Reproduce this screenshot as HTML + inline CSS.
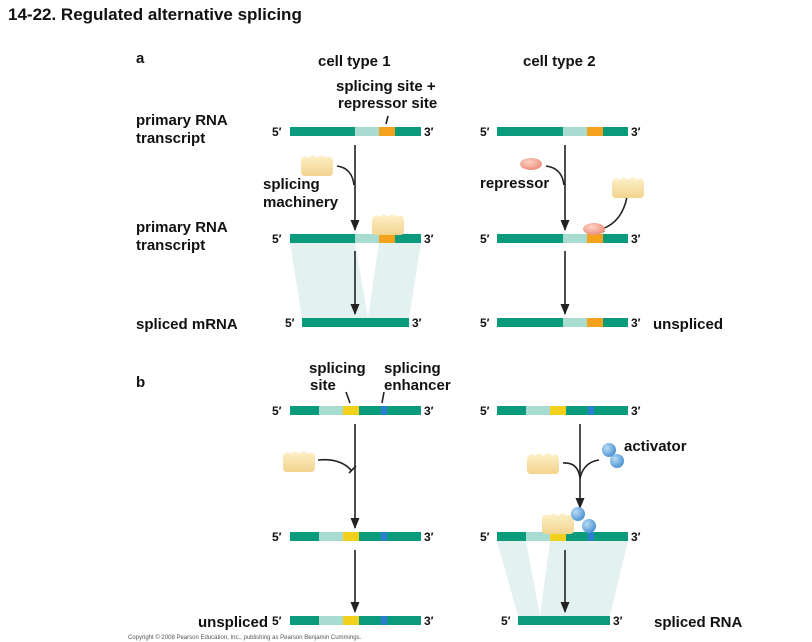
<!DOCTYPE html>
<html><head><meta charset="utf-8"><style>
html,body{margin:0;padding:0;background:#fff;}
svg{display:block;font-family:"Liberation Sans",sans-serif;font-weight:bold;}
</style></head><body>
<svg width="812" height="642" viewBox="0 0 812 642" xmlns="http://www.w3.org/2000/svg">
<defs>
<linearGradient id="mg" x1="0" y1="0" x2="0" y2="1"><stop offset="0" stop-color="#fdf0c8"/><stop offset="1" stop-color="#f3d38e"/></linearGradient>
<radialGradient id="bg" cx="0.35" cy="0.35" r="0.7"><stop offset="0" stop-color="#b8dcf7"/><stop offset="1" stop-color="#4a90d0"/></radialGradient>
<radialGradient id="rg" cx="0.4" cy="0.35" r="0.7"><stop offset="0" stop-color="#fcd3c4"/><stop offset="1" stop-color="#ec8a78"/></radialGradient>
<g id="mach"><path d="M0,6 Q3,0 8,4 Q12,-1 16,4 Q21,-1 25,4 Q30,0 32,6 L32,18 Q32,22 28,22 L4,22 Q0,22 0,18 Z" fill="url(#mg)"/></g>
<marker id="ah" markerWidth="11" markerHeight="9" refX="10" refY="4.5" orient="auto" markerUnits="userSpaceOnUse"><path d="M0,0 L11,4.5 L0,9 Z" fill="#222"/></marker>
</defs>
<g fill="#111" font-size="15">
<text x="8" y="20" font-size="17">14-22.  Regulated alternative splicing</text>
<text x="136" y="63">a</text>
<text x="318" y="66">cell type 1</text>
<text x="523" y="66">cell type 2</text>
<text x="336" y="91">splicing site +</text>
<text x="338" y="108">repressor site</text>
<text x="136" y="125">primary RNA</text>
<text x="136" y="143">transcript</text>
<text x="136" y="232">primary RNA</text>
<text x="136" y="250">transcript</text>
<text x="136" y="329">spliced mRNA</text>
<text x="263" y="189">splicing</text>
<text x="263" y="207">machinery</text>
<text x="480" y="188">repressor</text>
<text x="653" y="329">unspliced</text>
<text x="136" y="387">b</text>
<text x="309" y="373">splicing</text>
<text x="310" y="390">site</text>
<text x="384" y="373">splicing</text>
<text x="384" y="390">enhancer</text>
<text x="624" y="451">activator</text>
<text x="198" y="627">unspliced</text>
<text x="654" y="627">spliced RNA</text>
</g>
<g fill="#111" font-size="12">
<text x="272" y="136">5′</text><text x="424" y="136">3′</text>
<text x="480" y="136">5′</text><text x="631" y="136">3′</text>
<text x="272" y="243">5′</text><text x="424" y="243">3′</text>
<text x="480" y="243">5′</text><text x="631" y="243">3′</text>
<text x="285" y="327">5′</text><text x="412" y="327">3′</text>
<text x="480" y="327">5′</text><text x="631" y="327">3′</text>
<text x="272" y="415">5′</text><text x="424" y="415">3′</text>
<text x="480" y="415">5′</text><text x="631" y="415">3′</text>
<text x="272" y="541">5′</text><text x="424" y="541">3′</text>
<text x="480" y="541">5′</text><text x="631" y="541">3′</text>
<text x="272" y="625">5′</text><text x="424" y="625">3′</text>
<text x="501" y="625">5′</text><text x="613" y="625">3′</text>
</g>
<text x="128" y="639" font-size="6" font-weight="normal" fill="#555">Copyright © 2008 Pearson Education, Inc., publishing as Pearson Benjamin Cummings.</text>
<g fill="#e3f1f1">
<polygon points="290,243 355,243 368,318 302,318"/>
<polygon points="379,243 421,243 409,318 368,318"/>
<polygon points="497,541 526,541 540,616 518,616"/>
<polygon points="550,541 628,541 610,616 540,616"/>
</g>
<g>
<rect x="290" y="127" width="131" height="9" fill="#0a9a7c"/><rect x="355" y="127" width="24" height="9" fill="#a9dcd0"/><rect x="379" y="127" width="16" height="9" fill="#f5a21c"/>
<rect x="497" y="127" width="131" height="9" fill="#0a9a7c"/><rect x="563" y="127" width="24" height="9" fill="#a9dcd0"/><rect x="587" y="127" width="16" height="9" fill="#f5a21c"/>
<rect x="290" y="234" width="131" height="9" fill="#0a9a7c"/><rect x="355" y="234" width="24" height="9" fill="#a9dcd0"/><rect x="379" y="234" width="16" height="9" fill="#f5a21c"/>
<rect x="497" y="234" width="131" height="9" fill="#0a9a7c"/><rect x="563" y="234" width="24" height="9" fill="#a9dcd0"/><rect x="587" y="234" width="16" height="9" fill="#f5a21c"/>
<rect x="302" y="318" width="107" height="9" fill="#0a9a7c"/>
<rect x="497" y="318" width="131" height="9" fill="#0a9a7c"/><rect x="563" y="318" width="24" height="9" fill="#a9dcd0"/><rect x="587" y="318" width="16" height="9" fill="#f5a21c"/>
</g>
<g>
<rect x="290" y="406" width="131" height="9" fill="#0a9a7c"/><rect x="319" y="406" width="24" height="9" fill="#a9dcd0"/><rect x="343" y="406" width="16" height="9" fill="#f2d01c"/><rect x="381" y="406" width="6" height="9" fill="#2a7fd0"/>
<rect x="497" y="406" width="131" height="9" fill="#0a9a7c"/><rect x="526" y="406" width="24" height="9" fill="#a9dcd0"/><rect x="550" y="406" width="16" height="9" fill="#f2d01c"/><rect x="588" y="406" width="6" height="9" fill="#2a7fd0"/>
<rect x="290" y="532" width="131" height="9" fill="#0a9a7c"/><rect x="319" y="532" width="24" height="9" fill="#a9dcd0"/><rect x="343" y="532" width="16" height="9" fill="#f2d01c"/><rect x="381" y="532" width="6" height="9" fill="#2a7fd0"/>
<rect x="497" y="532" width="131" height="9" fill="#0a9a7c"/><rect x="526" y="532" width="24" height="9" fill="#a9dcd0"/><rect x="550" y="532" width="16" height="9" fill="#f2d01c"/><rect x="588" y="532" width="6" height="9" fill="#2a7fd0"/>
<rect x="290" y="616" width="131" height="9" fill="#0a9a7c"/><rect x="319" y="616" width="24" height="9" fill="#a9dcd0"/><rect x="343" y="616" width="16" height="9" fill="#f2d01c"/><rect x="381" y="616" width="6" height="9" fill="#2a7fd0"/>
<rect x="518" y="616" width="92" height="9" fill="#0a9a7c"/>
</g>
<g stroke="#222" stroke-width="1.6" fill="none">
<line x1="355" y1="145" x2="355" y2="230" marker-end="url(#ah)"/>
<line x1="355" y1="251" x2="355" y2="314" marker-end="url(#ah)"/>
<line x1="565" y1="145" x2="565" y2="230" marker-end="url(#ah)"/>
<line x1="565" y1="251" x2="565" y2="314" marker-end="url(#ah)"/>
<line x1="355" y1="424" x2="355" y2="528" marker-end="url(#ah)"/>
<line x1="355" y1="550" x2="355" y2="612" marker-end="url(#ah)"/>
<line x1="580" y1="424" x2="580" y2="508" marker-end="url(#ah)"/>
<line x1="565" y1="550" x2="565" y2="612" marker-end="url(#ah)"/>
<path d="M337,166 Q352,168 354,185"/>
<path d="M546,166 Q562,168 564,185"/>
<path d="M627,197 Q622,222 602,229"/>
<path d="M318,460 Q340,458 351,470"/>
<path d="M563,463 Q578,462 580,478"/>
<path d="M599,460 Q584,462 580,478"/>
<line x1="388" y1="116" x2="386" y2="124"/>
<line x1="346" y1="392" x2="350" y2="403"/>
<line x1="384" y1="392" x2="382" y2="403"/>
</g>
<line x1="349" y1="473" x2="356" y2="466" stroke="#222" stroke-width="1.6"/>
<line x1="600" y1="226" x2="604" y2="232" stroke="#222" stroke-width="1.6"/>
<use href="#mach" x="301" y="154"/>
<use href="#mach" x="372" y="213"/>
<use href="#mach" x="612" y="176"/>
<use href="#mach" x="283" y="450"/>
<use href="#mach" x="527" y="452"/>
<use href="#mach" x="542" y="512"/>
<ellipse cx="531" cy="164" rx="11" ry="6" fill="url(#rg)"/>
<ellipse cx="594" cy="229" rx="11" ry="6" fill="url(#rg)"/>
<circle cx="609" cy="450" r="7" fill="url(#bg)"/><circle cx="617" cy="461" r="7" fill="url(#bg)"/>
<circle cx="578" cy="514" r="7" fill="url(#bg)"/><circle cx="589" cy="526" r="7" fill="url(#bg)"/>
</svg>
</body></html>
